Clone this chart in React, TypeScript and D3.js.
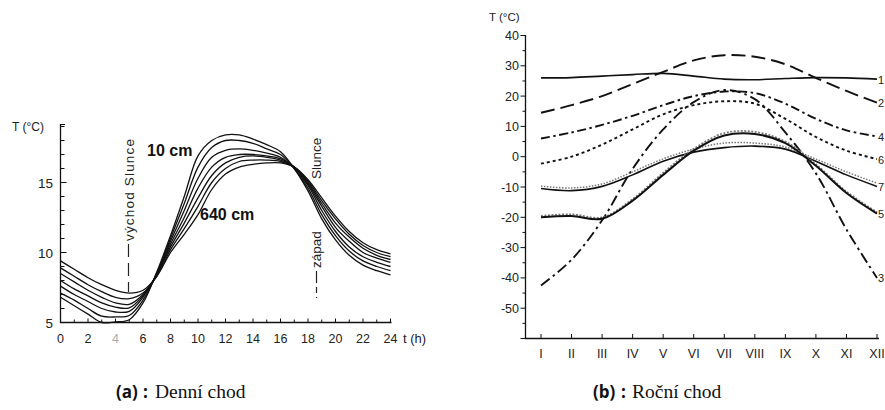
import React from "react";
import * as d3 from "d3";

// ---------- (a) Denní chod ----------
const hours = [0, 1, 2, 3, 4, 5, 6, 7, 8, 9, 10, 11, 12, 13, 14, 15, 16, 17, 18, 19, 20, 21, 22, 23, 24];
const hourLabels = ["0", "2", "4", "6", "8", "10", "12", "14", "16", "18", "20", "22", "24"];
const tempLabelsA = [5, 10, 15];

const d10 = [6.8, 6.2, 5.6, 5.0, 5.05, 5.2, 6.4, 8.6, 11.2, 14.0, 16.9, 18.0, 18.4, 18.4, 18.1, 17.7, 17.2, 16.0, 14.4, 12.4, 10.9, 9.8, 9.1, 8.7, 8.4];
const d20 = [7.1, 6.6, 6.0, 5.45, 5.4, 5.5, 6.6, 8.5, 11.0, 13.5, 16.1, 17.5, 18.0, 18.0, 17.8, 17.4, 17.0, 16.0, 14.6, 12.7, 11.2, 10.1, 9.4, 9.0, 8.7];
const d40 = [7.6, 7.0, 6.5, 6.0, 5.75, 5.8, 6.8, 8.5, 10.8, 13.0, 15.3, 16.8, 17.3, 17.4, 17.3, 17.1, 16.8, 16.0, 14.8, 13.0, 11.5, 10.4, 9.7, 9.3, 9.0];
const d80 = [8.0, 7.4, 6.9, 6.4, 6.1, 6.05, 6.9, 8.4, 10.6, 12.5, 14.6, 16.1, 16.8, 17.0, 17.0, 16.9, 16.7, 16.1, 14.9, 13.3, 11.8, 10.8, 10.0, 9.6, 9.3];
const d160 = [8.5, 7.9, 7.3, 6.8, 6.4, 6.3, 7.0, 8.4, 10.4, 12.1, 13.9, 15.5, 16.4, 16.8, 16.9, 16.8, 16.6, 16.1, 15.0, 13.5, 12.1, 11.1, 10.3, 9.8, 9.5];
const d320 = [8.9, 8.3, 7.7, 7.2, 6.8, 6.7, 7.1, 8.3, 10.2, 11.7, 13.3, 15.0, 16.0, 16.5, 16.6, 16.6, 16.5, 16.1, 15.1, 13.7, 12.4, 11.3, 10.5, 10.0, 9.7];
const d640 = [9.4, 8.8, 8.2, 7.7, 7.3, 7.1, 7.3, 8.3, 10.0, 11.3, 12.7, 14.5, 15.6, 16.1, 16.3, 16.4, 16.4, 16.1, 15.2, 13.9, 12.6, 11.5, 10.7, 10.2, 9.9];
const depthSeries = [d10, d20, d40, d80, d160, d320, d640];

// ---------- (b) Roční chod ----------
const months = ["I", "II", "III", "IV", "V", "VI", "VII", "VIII", "IX", "X", "XI", "XII"];
const tempLabelsB = [40, 30, 20, 10, 0, -10, -20, -30, -40, -50];

const s1 = [26.0, 26.1, 26.6, 27.1, 27.5, 26.6, 25.6, 25.4, 25.8, 26.1, 26.0, 25.6];
const s2 = [14.5, 17.0, 20.0, 24.0, 28.0, 31.8, 33.5, 33.0, 30.5, 26.0, 21.7, 17.8];
const s4 = [6.0, 8.0, 10.5, 13.5, 17.0, 20.0, 21.5, 21.0, 17.5, 12.5, 8.7, 6.7];
const s6 = [-2.3, 0.0, 4.0, 9.0, 14.0, 17.0, 18.3, 17.5, 12.5, 6.5, 2.0, -0.8];
const s3 = [-42.5, -34.0, -21.0, -4.0, 9.0, 18.0, 22.0, 19.0, 8.0, -5.5, -24.0, -40.0];
const s7 = [-10.5, -11.2, -9.8, -6.0, -1.5, 1.5, 3.0, 3.5, 2.5, -1.5, -6.0, -9.8];
const s7b = [-9.7, -10.3, -9.0, -5.0, -0.7, 2.5, 4.5, 4.5, 3.2, -0.8, -5.0, -8.7];
const s5 = [-20.0, -19.6, -20.5, -14.5, -6.0, 2.0, 7.0, 7.5, 4.5, -3.0, -12.0, -18.8];
const s5b = [-19.5, -19.0, -20.0, -14.0, -5.3, 2.6, 7.8, 8.2, 5.0, -2.5, -11.5, -18.3];
const endLabels = ["1", "2", "4", "6", "7", "5", "3"];
const endValues = [s1, s2, s4, s6, s7, s5, s3];

const SANS = "'Liberation Sans', Arial, sans-serif";

export default function App() {
  const xA = d3.scaleLinear().domain([0, 24]).range([60.5, 390.5]);
  const yA = d3.scaleLinear().domain([5, 19]).range([322.5, 126.5]);
  const lineA = d3
    .line<number>()
    .x((_, i) => xA(hours[i]))
    .y((d) => yA(d))
    .curve(d3.curveCatmullRom.alpha(0.5));

  const xB = d3.scalePoint<string>().domain(months).range([541, 877]);
  const yB = d3.scaleLinear().domain([-60, 40]).range([338.5, 35.5]);
  const lineB = d3
    .line<number>()
    .x((_, i) => xB(months[i]) as number)
    .y((d) => yB(d))
    .curve(d3.curveCatmullRom.alpha(0.5));

  const hourTicks = d3.range(0, 25);
  const yTicksA = d3.range(5, 20);
  const yTicksB = d3.range(-60, 41, 5);

  const styleB: { data: number[]; dash?: string; w: number; color: string }[] = [
    { data: s1, w: 1.6, color: "#111" },
    { data: s2, dash: "14,6", w: 1.9, color: "#111" },
    { data: s4, dash: "9,3.5,2.5,3.5", w: 1.9, color: "#111" },
    { data: s6, dash: "3,3", w: 1.9, color: "#111" },
    { data: s3, dash: "11,4,2.5,4", w: 1.9, color: "#111" },
    { data: s7b, dash: "1.5,1.5", w: 1.5, color: "#777" },
    { data: s7, w: 1.6, color: "#111" },
    { data: s5b, dash: "2,1.5", w: 1.7, color: "#777" },
    { data: s5, w: 2.0, color: "#111" },
  ];

  return (
    <div style={{ position: "absolute", left: 0, top: 0 }}>
      <svg width={885} height={410} style={{ display: "block", background: "#fff" }} fontFamily={SANS}>
        {/* ================= (a) ================= */}
        <g>
          <line x1={60.5} x2={60.5} y1={124} y2={323} stroke="#111" strokeWidth={1.3} />
          <line x1={60} x2={391.5} y1={322.5} y2={322.5} stroke="#111" strokeWidth={1.3} />
          {yTicksA.map((v) => (
            <line
              key={"yta" + v}
              x1={60.5}
              x2={60.5 + (v % 5 === 0 ? 6 : 4)}
              y1={yA(v)}
              y2={yA(v)}
              stroke="#111"
              strokeWidth={1}
            />
          ))}
          <line x1={60.5} x2={65} y1={124.5} y2={124.5} stroke="#111" strokeWidth={1} />
          {hourTicks.map((h) => (
            <line
              key={"xta" + h}
              x1={xA(h)}
              x2={xA(h)}
              y1={322.5}
              y2={322.5 - (h % 2 === 0 ? 4 : 3)}
              stroke="#111"
              strokeWidth={1}
            />
          ))}
          {tempLabelsA.map((v) => (
            <text key={"yla" + v} x={53} y={yA(v) + 5} fontSize={13.5} textAnchor="end" fill="#222">
              {v}
            </text>
          ))}
          {hourLabels.map((l) => (
            <text
              key={"xla" + l}
              x={xA(+l)}
              y={343}
              fontSize={12.5}
              textAnchor="middle"
              fill={l === "4" ? "#aaa" : "#222"}
            >
              {l}
            </text>
          ))}
          <text x={403} y={343} fontSize={13} fill="#222">
            t (h)
          </text>
          <text x={12} y={131} fontSize={12} fill="#222">
            T (°C)
          </text>

          {depthSeries.map((s, i) => (
            <path key={"da" + i} d={lineA(s) || ""} fill="none" stroke="#111" strokeWidth={1.3} />
          ))}

          <text x={147} y={156} fontSize={16} fontWeight="bold" fill="#111">
            10 cm
          </text>
          <text x={200} y={220} fontSize={16} fontWeight="bold" fill="#111">
            640 cm
          </text>

          <line x1={128.5} x2={128.5} y1={244} y2={292} stroke="#222" strokeWidth={1.2} strokeDasharray="13,6" />
          <text
            transform={`translate(${133.5},${241}) rotate(-90)`}
            fontSize={13.5}
            fill="#222"
            textLength={102}
            lengthAdjust="spacing"
          >
            východ Slunce
          </text>
          <line x1={316.5} x2={316.5} y1={271} y2={298} stroke="#222" strokeWidth={1.2} strokeDasharray="12,4,6,4" />
          <text transform={`translate(${321},${268}) rotate(-90)`} fontSize={13.5} fill="#222">
            západ
          </text>
          <text transform={`translate(${321},${179}) rotate(-90)`} fontSize={13.5} fill="#222">
            Slunce
          </text>
        </g>

        {/* ================= (b) ================= */}
        <g>
          <line x1={525.5} x2={525.5} y1={35} y2={339} stroke="#111" strokeWidth={1.3} />
          <line x1={525} x2={879} y1={338.5} y2={338.5} stroke="#111" strokeWidth={1.3} />
          {yTicksB.map((v) => (
            <line
              key={"ytb" + v}
              x1={525.5}
              x2={525.5 - (v % 10 === 0 ? 5 : 3)}
              y1={yB(v)}
              y2={yB(v)}
              stroke="#111"
              strokeWidth={1}
            />
          ))}
          {months.map((m) => (
            <line
              key={"xtb" + m}
              x1={xB(m) as number}
              x2={xB(m) as number}
              y1={338.5}
              y2={334}
              stroke="#111"
              strokeWidth={1}
            />
          ))}
          {tempLabelsB.map((v) => (
            <text key={"ylb" + v} x={519} y={yB(v) + 4.5} fontSize={12.5} textAnchor="end" fill="#222">
              {v}
            </text>
          ))}
          {months.map((m) => (
            <text key={"xlb" + m} x={xB(m) as number} y={358} fontSize={12.5} textAnchor="middle" fill="#222">
              {m}
            </text>
          ))}
          <text x={489} y={21} fontSize={11.5} fill="#222">
            T (°C)
          </text>

          {styleB.map((s, i) => (
            <path
              key={"sb" + i}
              d={lineB(s.data) || ""}
              fill="none"
              stroke={s.color}
              strokeWidth={s.w}
              strokeDasharray={s.dash}
            />
          ))}
          {endLabels.map((l, i) => (
            <text key={"el" + l} x={878} y={yB(endValues[i][11]) + 4.5} fontSize={11} fill="#222">
              {l}
            </text>
          ))}
        </g>

        {/* ================= captions ================= */}
        <g>
          <text x={116} y={398} fontSize={17} fontWeight="bold" fontFamily="'Open Sans', sans-serif" fill="#111">
            (a)
          </text>
          <text x={143} y={398} fontSize={17} fontWeight="bold" fontFamily="'Open Sans', sans-serif" fill="#111">
            :
          </text>
          <text x={155} y={398} fontSize={19.5} fontFamily="'Liberation Serif', serif" fill="#111">
            Denní chod
          </text>
          <text x={593} y={398} fontSize={17} fontWeight="bold" fontFamily="'Open Sans', sans-serif" fill="#111">
            (b)
          </text>
          <text x={621} y={398} fontSize={17} fontWeight="bold" fontFamily="'Open Sans', sans-serif" fill="#111">
            :
          </text>
          <text x={632} y={398} fontSize={19.5} fontFamily="'Liberation Serif', serif" fill="#111">
            Roční chod
          </text>
        </g>
      </svg>
    </div>
  );
}
